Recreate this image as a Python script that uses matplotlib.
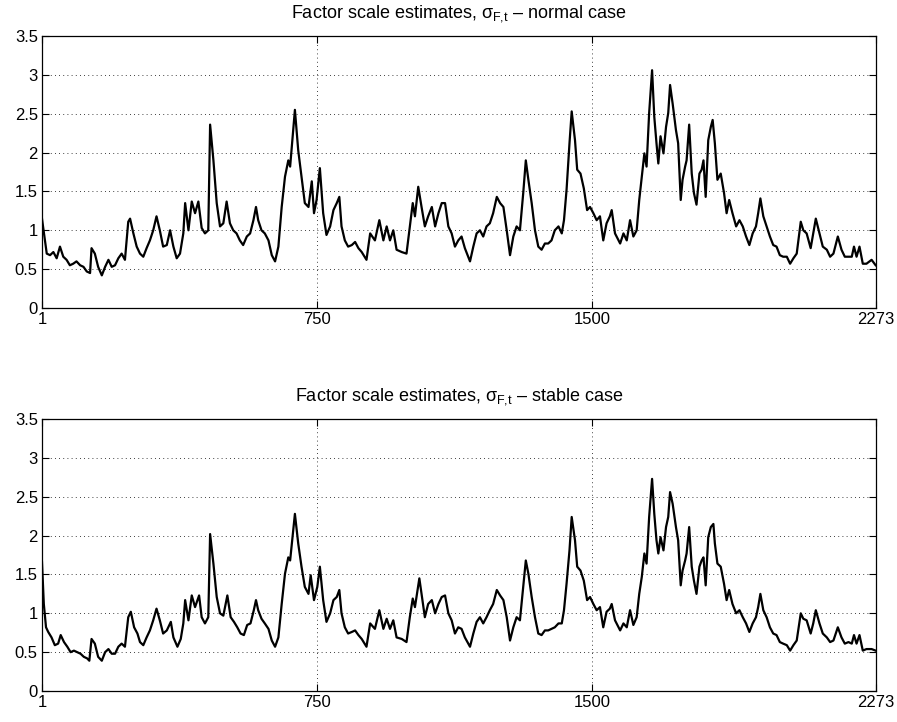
import matplotlib
matplotlib.use("Agg")
import matplotlib.pyplot as plt

# sample index and value, top panel (normal case)
t_normal = [1, 9, 14, 23, 32, 41, 50, 59, 68, 77, 86, 95, 105, 114, 123, 132, 136, 145, 154, 164,
            173, 182, 191, 200, 209, 218, 227, 236, 241, 250, 259, 268, 277, 286, 295, 304, 313, 322, 331, 341,
            350, 359, 368, 377, 386, 391, 400, 409, 418, 427, 436, 445, 454, 459, 468, 477, 486, 495, 504, 513,
            522, 531, 540, 549, 559, 568, 577, 584, 590, 599, 608, 618, 627, 636, 645, 654, 663, 672,
            677, 690, 699, 708, 717, 727, 736, 742, 749, 758, 767, 776, 786, 795, 804, 811, 817, 826, 835, 845,
            854, 863, 872, 885, 895, 908, 920, 931, 940, 949, 958, 967, 981, 994, 1003, 1011, 1017, 1026, 1035, 1044,
            1053, 1063, 1072, 1081, 1090, 1099, 1108, 1117, 1126, 1135, 1144, 1153, 1167, 1176, 1185, 1194, 1203, 1212, 1221, 1230,
            1240, 1249, 1258, 1267, 1276, 1285, 1294, 1303, 1312, 1319, 1326, 1335, 1344, 1353, 1362, 1371, 1380, 1389, 1398, 1408,
            1417, 1423, 1430, 1438, 1444, 1453, 1459, 1468, 1477, 1486,
            1494, 1503, 1512, 1521, 1530, 1539, 1548, 1553, 1562, 1576, 1585, 1594, 1603, 1612, 1621, 1628, 1635, 1642, 1648, 1655,
            1663, 1669, 1675, 1680, 1686, 1694, 1701, 1707, 1712, 1719, 1728, 1734, 1741, 1746, 1753, 1757, 1764, 1771, 1777, 1784,
            1792, 1798, 1803, 1809, 1816, 1823, 1828, 1834, 1841, 1850, 1859, 1866, 1873, 1882, 1892, 1901, 1910, 1919, 1928, 1937,
            1946, 1952, 1958, 1966, 1975, 1984, 1993, 2002, 2011, 2020, 2030, 2039, 2048, 2057, 2068, 2075, 2084, 2095, 2102, 2109,
            2119, 2128, 2139, 2148, 2157, 2169, 2179, 2188, 2198, 2207, 2213, 2220, 2228, 2237, 2247, 2261, 2272]
sigma_normal = [1.15, 0.87, 0.70, 0.68, 0.72, 0.64, 0.79, 0.66, 0.62, 0.55, 0.57, 0.60, 0.55, 0.53, 0.47, 0.45, 0.77, 0.70, 0.53, 0.42,
                0.53, 0.62, 0.53, 0.55, 0.64, 0.70, 0.62, 1.11, 1.15, 0.96, 0.79, 0.70, 0.66, 0.77, 0.87, 1.00, 1.18, 1.00, 0.79, 0.81,
                1.00, 0.79, 0.64, 0.70, 0.96, 1.35, 1.00, 1.37, 1.22, 1.37, 1.03, 0.96, 1.00, 2.36, 1.90, 1.35, 1.05, 1.09, 1.37, 1.09,
                1.00, 0.96, 0.87, 0.81, 0.92, 0.96, 1.13, 1.30, 1.13, 1.00, 0.96, 0.87, 0.68, 0.60, 0.79, 1.30, 1.69, 1.90,
                1.82, 2.55, 2.03, 1.69, 1.35, 1.30, 1.63, 1.22, 1.39, 1.80, 1.22, 0.94, 1.05, 1.26, 1.35, 1.43, 1.05, 0.87, 0.79, 0.81,
                0.85, 0.77, 0.72, 0.62, 0.96, 0.87, 1.13, 0.87, 1.05, 0.87, 1.00, 0.75, 0.72, 0.70, 1.05, 1.35, 1.18, 1.56, 1.30, 1.05,
                1.18, 1.30, 1.05, 1.22, 1.35, 1.35, 1.05, 0.96, 0.79, 0.87, 0.92, 0.77, 0.60, 0.79, 0.96, 1.00, 0.92, 1.05, 1.09, 1.22,
                1.43, 1.35, 1.30, 1.00, 0.68, 0.92, 1.05, 1.00, 1.48, 1.90, 1.65, 1.35, 1.00, 0.79, 0.75, 0.83, 0.83, 0.87, 1.00, 1.05,
                0.96, 1.13, 1.52, 2.12, 2.53, 2.16, 1.78, 1.73, 1.54, 1.26,
                1.30, 1.22, 1.13, 1.18, 0.87, 1.09, 1.18, 1.26, 0.96, 0.83, 0.96, 0.87, 1.13, 0.92, 1.00, 1.39, 1.69, 1.99, 1.82, 2.51,
                3.06, 2.46, 2.12, 1.86, 2.21, 1.99, 2.33, 2.51, 2.87, 2.63, 2.29, 2.12, 1.39, 1.65, 1.82, 1.90, 2.36, 1.73, 1.48, 1.33,
                1.73, 1.78, 1.90, 1.43, 2.16, 2.33, 2.42, 2.12, 1.65, 1.73, 1.48, 1.22, 1.39, 1.22, 1.05, 1.13, 1.05, 0.92, 0.81, 0.96,
                1.05, 1.22, 1.41, 1.18, 1.05, 0.92, 0.81, 0.79, 0.68, 0.66, 0.66, 0.57, 0.64, 0.70, 1.11, 1.00, 0.96, 0.77, 0.96, 1.15,
                0.96, 0.79, 0.75, 0.66, 0.70, 0.92, 0.75, 0.66, 0.66, 0.66, 0.79, 0.66, 0.79, 0.57, 0.57, 0.62, 0.55]

# bottom panel (stable case)
t_stable = [1, 6, 12, 18, 27, 36, 45, 52, 61, 70, 79, 88, 97, 106, 115, 124, 130, 136, 145, 154,
            164, 173, 182, 191, 200, 209, 218, 227, 236, 243, 252, 261, 268, 277, 286, 295, 304, 313, 322, 331,
            341, 352, 359, 370, 379, 386, 391, 400, 409, 418, 429, 436, 445, 454, 459, 468, 477, 486, 495, 506,
            515, 524, 533, 542, 551, 560, 569, 578, 584, 590, 599, 608, 618, 627, 636, 645, 654, 663, 672,
            677, 690, 699, 708, 717, 727, 733, 742, 751, 758, 767, 776, 786, 795, 804, 811, 817, 826, 835, 845,
            854, 863, 872, 885, 895, 908, 920, 931, 940, 949, 958, 967, 981, 994, 1003, 1011, 1017, 1029, 1035, 1044,
            1053, 1063, 1072, 1081, 1090, 1099, 1108, 1117, 1126, 1135, 1144, 1153, 1167, 1176, 1185, 1194, 1203, 1212, 1221, 1230,
            1240, 1249, 1258, 1267, 1276, 1285, 1294, 1303, 1312, 1319, 1326, 1335, 1344, 1353, 1362, 1371, 1380, 1389, 1398, 1408,
            1417, 1423, 1430, 1438, 1444, 1453, 1459, 1468, 1477, 1486,
            1494, 1503, 1512, 1521, 1530, 1539, 1548, 1553, 1562, 1576, 1585, 1594, 1603, 1612, 1621, 1628, 1635, 1642, 1648, 1655,
            1663, 1669, 1675, 1680, 1686, 1694, 1701, 1707, 1712, 1719, 1728, 1734, 1741, 1746, 1753, 1757, 1764, 1771, 1777, 1784,
            1792, 1798, 1803, 1809, 1816, 1823, 1830, 1834, 1841, 1850, 1859, 1866, 1873, 1882, 1892, 1901, 1910, 1919, 1928, 1937,
            1946, 1952, 1958, 1966, 1975, 1984, 1993, 2002, 2011, 2020, 2030, 2039, 2048, 2057, 2068, 2075, 2084, 2095, 2102, 2109,
            2119, 2128, 2139, 2148, 2157, 2169, 2179, 2188, 2198, 2207, 2213, 2220, 2228, 2237, 2247, 2261, 2272]
sigma_stable = [1.66, 1.12, 0.82, 0.76, 0.69, 0.59, 0.61, 0.72, 0.63, 0.57, 0.50, 0.52, 0.50, 0.48, 0.44, 0.42, 0.39, 0.67, 0.61, 0.44,
                0.39, 0.50, 0.54, 0.48, 0.48, 0.57, 0.61, 0.57, 0.95, 1.02, 0.82, 0.74, 0.63, 0.59, 0.69, 0.78, 0.91, 1.06, 0.91, 0.74,
                0.78, 0.89, 0.69, 0.57, 0.67, 0.87, 1.17, 0.91, 1.23, 1.08, 1.23, 0.95, 0.87, 0.95, 2.02, 1.64, 1.21, 1.00, 0.97, 1.23,
                0.95, 0.89, 0.82, 0.74, 0.72, 0.85, 0.87, 1.04, 1.17, 1.04, 0.93, 0.87, 0.80, 0.65, 0.57, 0.69, 1.12, 1.51, 1.72,
                1.68, 2.28, 1.90, 1.60, 1.34, 1.25, 1.49, 1.17, 1.34, 1.60, 1.17, 0.89, 1.00, 1.17, 1.21, 1.30, 1.00, 0.82, 0.74, 0.76,
                0.78, 0.72, 0.67, 0.57, 0.87, 0.80, 1.04, 0.80, 0.93, 0.80, 0.91, 0.69, 0.67, 0.63, 0.95, 1.19, 1.08, 1.45, 1.25, 0.95,
                1.12, 1.17, 1.00, 1.12, 1.21, 1.23, 1.00, 0.91, 0.74, 0.82, 0.80, 0.69, 0.57, 0.74, 0.89, 0.95, 0.87, 0.95, 1.04, 1.12,
                1.30, 1.23, 1.17, 0.95, 0.65, 0.82, 0.95, 0.91, 1.34, 1.68, 1.51, 1.21, 0.95, 0.74, 0.72, 0.78, 0.78, 0.80, 0.82, 0.87,
                0.87, 1.04, 1.38, 1.81, 2.24, 1.94, 1.60, 1.55, 1.42, 1.17,
                1.21, 1.12, 1.04, 1.08, 0.82, 1.02, 1.06, 1.12, 0.91, 0.78, 0.87, 0.82, 1.04, 0.85, 0.95, 1.25, 1.47, 1.77, 1.64, 2.24,
                2.73, 2.28, 1.94, 1.77, 1.98, 1.81, 2.11, 2.24, 2.56, 2.41, 2.11, 1.94, 1.36, 1.55, 1.68, 1.77, 2.11, 1.60, 1.42, 1.25,
                1.60, 1.68, 1.72, 1.36, 1.98, 2.11, 2.15, 1.90, 1.64, 1.60, 1.38, 1.17, 1.30, 1.12, 1.00, 1.04, 0.95, 0.87, 0.76, 0.87,
                0.95, 1.08, 1.25, 1.04, 0.95, 0.82, 0.74, 0.72, 0.63, 0.61, 0.59, 0.52, 0.59, 0.65, 1.00, 0.93, 0.91, 0.74, 0.87, 1.04,
                0.87, 0.74, 0.69, 0.63, 0.65, 0.82, 0.69, 0.61, 0.63, 0.61, 0.72, 0.61, 0.72, 0.52, 0.54, 0.54, 0.52]

x_ticks = [1, 750, 1500, 2273]
y_ticks = [0, 0.5, 1, 1.5, 2, 2.5, 3, 3.5]
titles = [r'Factor scale estimates, $\sigma_{F{,}t}$ – normal case',
          r'Factor scale estimates, $\sigma_{F{,}t}$ – stable case']

plt.rcParams['font.family'] = ['Liberation Sans', 'DejaVu Sans']
plt.rcParams['mathtext.fontset'] = 'custom'
plt.rcParams['mathtext.rm'] = 'Liberation Sans'
plt.rcParams['mathtext.it'] = 'Liberation Sans'

fig = plt.figure(figsize=(8.97, 7.22), dpi=100)
ax1 = fig.add_axes([0.0468, 0.5734, 0.9298, 0.3767])
ax2 = fig.add_axes([0.0468, 0.0429, 0.9298, 0.3767])

for ax, t, s, title in [(ax1, t_normal, sigma_normal, titles[0]),
                        (ax2, t_stable, sigma_stable, titles[1])]:
    ax.plot(t, s, color='k', lw=1.6)
    ax.set_xlim(1, 2273)
    ax.set_ylim(0, 3.5)
    ax.set_xticks(x_ticks)
    ax.set_xticklabels([str(v) for v in x_ticks])
    ax.set_yticks(y_ticks)
    ax.set_yticklabels(['0', '0.5', '1', '1.5', '2', '2.5', '3', '3.5'])
    ax.tick_params(direction='in', length=5, width=0.8, top=True, right=True,
                   labelsize=12, pad=3)
    ax.grid(True, color='k', linestyle=(0, (1, 4)), lw=0.6)
    for sp in ax.spines.values():
        sp.set_linewidth(0.9)
    ax.set_title(title, fontsize=13, pad=13)

fig.savefig('out.png', dpi=100)
